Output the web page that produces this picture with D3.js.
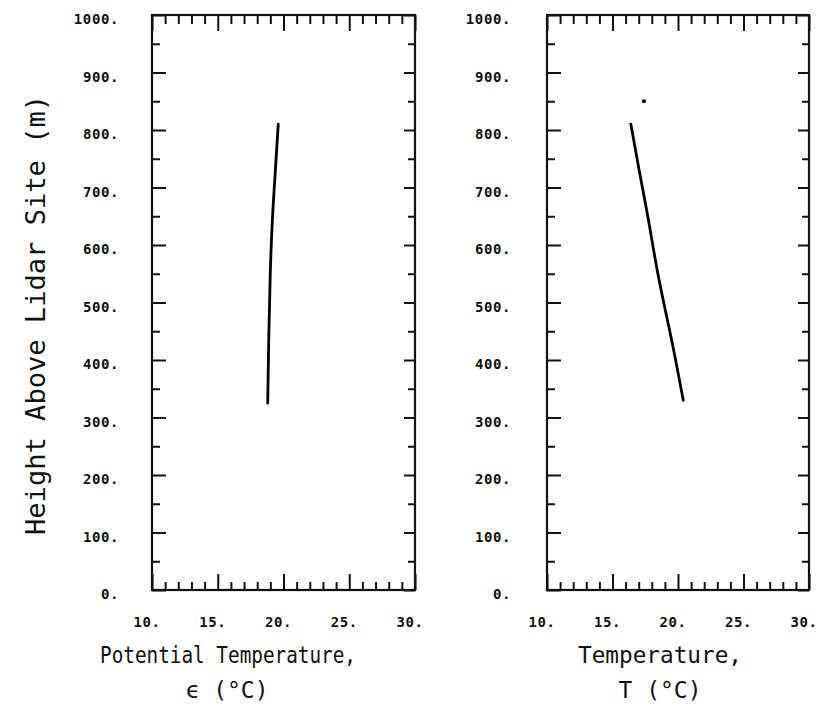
<!DOCTYPE html>
<html>
<head>
<meta charset="UTF-8" />
<script src="https://d3js.org/d3.v7.min.js"></script>
<style>
  body { margin: 0; background: #fff; }
  .tick-label { font-family: "DejaVu Sans Mono", monospace; font-weight: bold; font-size: 14px; letter-spacing: 0.6px; fill: #111; }
  .title { font-family: "DejaVu Sans Mono", monospace; font-size: 23px; fill: #111; }
</style>
</head>
<body>
<svg width="821" height="719"></svg>
<script>
// values
const thetaHeights = [325, 445, 550, 650, 735, 810];
const thetaValues  = [18.8, 18.88, 18.98, 19.15, 19.4, 19.6];
const tempHeights  = [330, 445, 540, 645, 715, 810];
const tempValues   = [20.4, 19.45, 18.5, 17.75, 17.15, 16.4];
const tempDot      = [17.4, 850];
const heightLabels = [0, 100, 200, 300, 400, 500, 600, 700, 800, 900, 1000];
const tempLabels   = [10, 15, 20, 25, 30];

const svg = d3.select("svg");
const y = d3.scaleLinear().domain([0, 1000]).range([590, 15]);

const majorY = d3.range(0, 1001, 100);
const minorY = d3.range(50, 1000, 100);
const majorX = tempLabels;
const minorX = d3.range(10, 31, 1).filter(v => v % 5 !== 0);

function drawPanel(x0, x1, hs, vs, labelRight) {
  const x = d3.scaleLinear().domain([10, 30]).range([x0, x1]);
  const g = svg.append("g");

  // ticks, all pointing inward
  const axes = [
    [d3.axisBottom(x).tickValues(majorX).tickSize(-16), `translate(0,${y(0)})`],
    [d3.axisBottom(x).tickValues(minorX).tickSize(-8), `translate(0,${y(0)})`],
    [d3.axisTop(x).tickValues(majorX).tickSize(-16), `translate(0,${y(1000)})`],
    [d3.axisTop(x).tickValues(minorX).tickSize(-9), `translate(0,${y(1000)})`],
    [d3.axisLeft(y).tickValues(majorY).tickSize(-14), `translate(${x0},0)`],
    [d3.axisLeft(y).tickValues(minorY).tickSize(-8), `translate(${x0},0)`],
    [d3.axisRight(y).tickValues(majorY).tickSize(-11), `translate(${x1},0)`],
    [d3.axisRight(y).tickValues(minorY).tickSize(-7), `translate(${x1},0)`]
  ];
  axes.forEach(([ax, tr]) => {
    const a = g.append("g").attr("transform", tr).call(ax.tickFormat(""));
    a.select(".domain").remove();
    a.selectAll("line").attr("stroke", "#111").attr("stroke-width", 2);
  });

  g.append("rect")
    .attr("x", x0).attr("y", y(1000))
    .attr("width", x1 - x0).attr("height", y(0) - y(1000))
    .attr("fill", "none").attr("stroke", "#111").attr("stroke-width", 2.2);

  // y tick labels
  g.selectAll(".ylab").data(heightLabels).enter().append("text")
    .attr("class", "tick-label")
    .attr("x", labelRight)
    .attr("y", d => y(d) + 9)
    .attr("text-anchor", "end")
    .text(d => d + ".");

  // x tick labels
  g.selectAll(".xlab").data(tempLabels).enter().append("text")
    .attr("class", "tick-label")
    .attr("x", d => x(d) - 5)
    .attr("y", 627)
    .attr("text-anchor", "middle")
    .text(d => d + ".");

  // profile
  const pts = hs.map((h, i) => [vs[i], h]);
  g.append("path")
    .datum(pts)
    .attr("fill", "none")
    .attr("stroke", "#000")
    .attr("stroke-width", 2.8)
    .attr("stroke-linecap", "round")
    .attr("d", d3.line().x(d => x(d[0])).y(d => y(d[1])).curve(d3.curveBasis));
  return x;
}

drawPanel(152, 415, thetaHeights, thetaValues, 119);
const xr = drawPanel(547, 809, tempHeights, tempValues, 511);

svg.append("circle")
  .attr("cx", xr(tempDot[0])).attr("cy", y(tempDot[1]))
  .attr("r", 2).attr("fill", "#000");

// axis titles
svg.append("text").attr("class", "title")
  .attr("x", 100).attr("y", 663)
  .attr("textLength", 256).attr("lengthAdjust", "spacingAndGlyphs")
  .text("Potential Temperature,");
svg.append("text").attr("class", "title")
  .attr("x", 227).attr("y", 698).attr("text-anchor", "middle")
  .text("ϵ (°C)");
svg.append("text").attr("class", "title")
  .attr("x", 578).attr("y", 663)
  .attr("textLength", 164).attr("lengthAdjust", "spacingAndGlyphs")
  .text("Temperature,");
svg.append("text").attr("class", "title")
  .attr("x", 660).attr("y", 698).attr("text-anchor", "middle")
  .text("T (°C)");

svg.append("text").attr("class", "title")
  .attr("transform", "translate(45,315) rotate(-90)")
  .attr("text-anchor", "middle")
  .style("font-size", "26px")
  .attr("textLength", 440).attr("lengthAdjust", "spacingAndGlyphs")
  .text("Height Above Lidar Site (m)");
</script>
</body>
</html>
